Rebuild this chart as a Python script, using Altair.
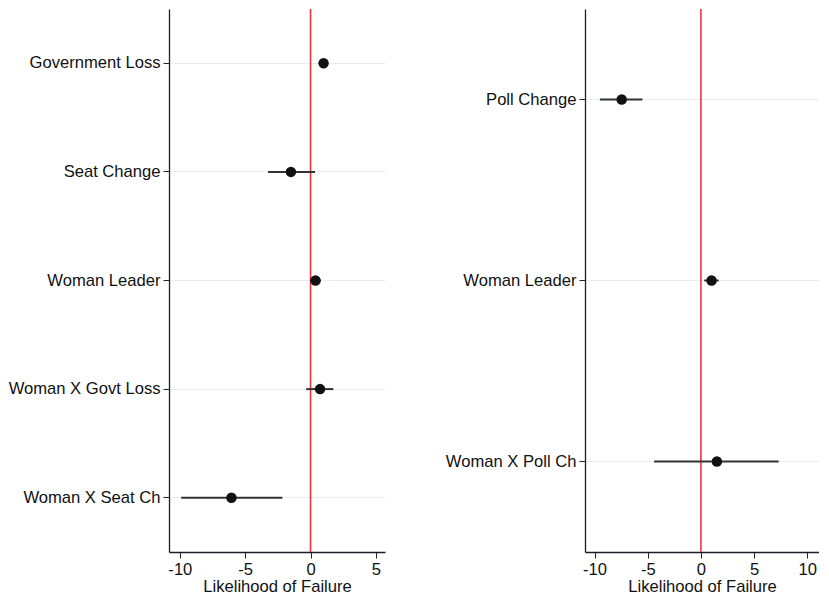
import altair as alt
import pandas as pd

FONT = "Liberation Sans"
FS = 16.6

left_labels = ["Government Loss", "Seat Change", "Woman Leader", "Woman X Govt Loss", "Woman X Seat Ch"]
left_est = [1.0, -1.5, 0.38, 0.73, -6.05]
left_lo = [0.75, -3.25, 0.0, -0.33, -9.9]
left_hi = [1.25, 0.35, 0.8, 1.75, -2.15]

right_labels = ["Poll Change", "Woman Leader", "Woman X Poll Ch"]
right_est = [-7.45, 1.0, 1.5]
right_lo = [-9.5, 0.3, -4.4]
right_hi = [-5.5, 1.67, 7.3]

left_ticks = [-10, -5, 0, 5]
right_ticks = [-10, -5, 0, 5, 10]


def panel(labels, est, lo, hi, domain, ticks, width):
    df = pd.DataFrame({"label": labels, "est": est, "lo": lo, "hi": hi})
    base = alt.Chart(df)
    yenc = alt.Y(
        "label:N",
        sort=labels,
        title=None,
        axis=alt.Axis(
            grid=True,
            gridColor="#e4eff1",
            gridWidth=1,
            ticks=True,
            tickSize=6,
            tickColor="#222",
            domainColor="#1a1f2a",
            domainWidth=1.3,
            labelPadding=3,
            labelColor="#111",
            labelFont=FONT,
            labelFontSize=FS,
            labelLimit=400,
        ),
    )
    xscale = alt.Scale(domain=domain, nice=False, zero=False)
    bars = base.mark_rule(color="#333", strokeWidth=2).encode(
        y=yenc,
        x=alt.X(
            "lo:Q",
            scale=xscale,
            axis=alt.Axis(
                values=ticks,
                labelExpr="'' + datum.value",
                grid=False,
                title="Likelihood of Failure",
                titleFont=FONT,
                titleFontSize=FS,
                titleFontWeight="normal",
                titleColor="#111",
                titlePadding=1,
                tickSize=6,
                tickColor="#222",
                domainColor="#1a1f2a",
                domainWidth=1.3,
                labelPadding=3,
                labelColor="#111",
                labelFont=FONT,
                labelFontSize=FS,
            ),
        ),
        x2="hi:Q",
    )
    zero = alt.Chart(pd.DataFrame({"z": [0]})).mark_rule(color="#f2343f", strokeWidth=1.6).encode(
        x=alt.X("z:Q", scale=xscale)
    )
    pts = base.mark_circle(size=110, color="#111", opacity=1).encode(
        y=alt.Y("label:N", sort=labels),
        x=alt.X("est:Q", scale=xscale),
    )
    return alt.layer(zero, bars, pts).properties(width=width, height=543)


left = panel(left_labels, left_est, left_lo, left_hi, [-10.83, 5.7], left_ticks, 216)
right = panel(right_labels, right_est, right_lo, right_hi, [-10.9, 11.1], right_ticks, 234)

chart = (
    alt.hconcat(left, right, spacing=60)
    .resolve_scale(x="independent", y="independent")
    .properties(padding={"left": 0, "top": 0, "right": 0, "bottom": 0})
    .configure_view(stroke=None)
)

chart.save("out.html", embed_options={"renderer": "svg", "actions": False})
